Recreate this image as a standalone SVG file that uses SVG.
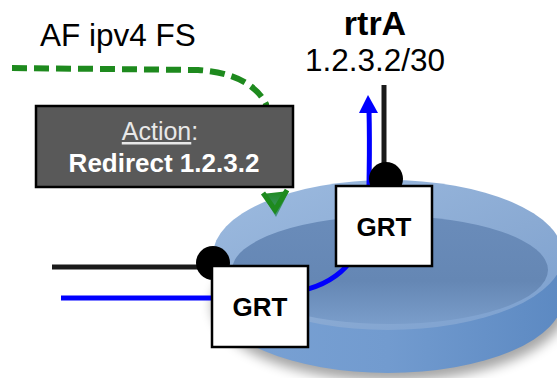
<svg xmlns="http://www.w3.org/2000/svg" width="557" height="378" viewBox="0 0 557 378">
  <style>
    .lbl { font-family: "Liberation Sans", Arial, sans-serif; fill: #000; }
    .bold { font-weight: bold; }
    .grt-box { fill: #fff; stroke: #000; stroke-width: 2.5; }
    .grt-text { font-family: "Liberation Sans", Arial, sans-serif; font-weight: bold; font-size: 26px; fill: #000; text-anchor: middle; }
    .wire-black { fill: none; stroke: #1a1a1a; stroke-width: 5; }
    .wire-blue { fill: none; stroke: #0000ff; stroke-width: 5; }
    .flow { fill: none; stroke: #1e8a1e; stroke-width: 6; stroke-dasharray: 15 7; }
  </style>
  <defs>
    <filter id="soft" x="-20%" y="-20%" width="140%" height="140%">
      <feGaussianBlur stdDeviation="6"/>
    </filter>
    <linearGradient id="sideFill" x1="0" y1="0" x2="1" y2="0">
      <stop offset="0" stop-color="#7aa2d4"/>
      <stop offset="0.5" stop-color="#729bcf"/>
      <stop offset="1" stop-color="#5c89c2"/>
    </linearGradient>
    <linearGradient id="rimFill" x1="0" y1="0" x2="1" y2="1">
      <stop offset="0" stop-color="#9dbbe0"/>
      <stop offset="0.6" stop-color="#8aaad3"/>
      <stop offset="1" stop-color="#7a9fcf"/>
    </linearGradient>
    <linearGradient id="innerFill" x1="0" y1="0" x2="0" y2="1">
      <stop offset="0" stop-color="#6a8cba"/>
      <stop offset="0.6" stop-color="#6587b4"/>
      <stop offset="1" stop-color="#7a9dca"/>
    </linearGradient>
    <linearGradient id="headFill" x1="0" y1="0" x2="0" y2="1">
      <stop offset="0" stop-color="#1e8a1e"/>
      <stop offset="1" stop-color="#4a9488"/>
    </linearGradient>
  </defs>

  <!-- the routing table dish -->
  <g id="dish">
    <ellipse cx="390" cy="305" rx="178" ry="76" fill="#000" opacity="0.35" filter="url(#soft)"/>
    <path d="M213,255 L213,298 A175,75 0 0 0 563,298 L563,255 Z" fill="url(#sideFill)"/>
    <ellipse cx="388" cy="255" rx="175" ry="75" fill="url(#rimFill)"/>
    <ellipse cx="390" cy="270" rx="158" ry="54" fill="url(#innerFill)"/>
  </g>

  <!-- labels -->
  <g id="fs-label">
    <text class="lbl" x="40" y="46" font-size="31.5">AF ipv4 FS</text>
  </g>
  <g id="rtrA">
    <text class="lbl bold" x="375" y="35" font-size="34" text-anchor="middle">rtrA</text>
    <text class="lbl" x="375" y="71" font-size="31.5" text-anchor="middle">1.2.3.2/30</text>
  </g>

  <!-- connectors -->
  <g id="connectors">
    <path class="flow" d="M12,68 L198,70 C232,72 256,84 266,104 L270,190"/>
    <polygon points="262,194 289,191 276,217" fill="url(#headFill)"/>
    <path d="M263,193 L275,210 L287,190" fill="none" stroke="#1e8a1e" stroke-width="5"/>
    <line class="wire-black" x1="52" y1="267" x2="214" y2="267"/>
    <path class="wire-blue" d="M61,298 L230,298"/>
    <path class="wire-blue" d="M300,291 Q333,284 350,262"/>
    <line class="wire-black" x1="384" y1="85" x2="384" y2="180"/>
    <path class="wire-blue" d="M369,190 C369,170 370,150 369,110"/>
    <polygon points="359,113 378,113 368,95" fill="#0000ff"/>
    <circle cx="213" cy="263" r="17" fill="#000"/>
    <circle cx="386" cy="179" r="17" fill="#000"/>
  </g>

  <!-- action box -->
  <g id="action">
    <rect x="36" y="106" width="257" height="81" fill="#595959" stroke="#000" stroke-width="2.5"/>
    <text class="lbl" x="160" y="140" font-size="25" text-anchor="middle" style="fill:#e8e8e8"><tspan text-decoration="underline">Action</tspan>:</text>
    <text class="lbl bold" x="164" y="172" font-size="26" text-anchor="middle" style="fill:#fff">Redirect 1.2.3.2</text>
  </g>

  <!-- routers -->
  <g id="grt-right">
    <rect class="grt-box" x="336" y="186" width="96" height="80"/>
    <text class="grt-text" x="384" y="236">GRT</text>
  </g>
  <g id="grt-left">
    <rect class="grt-box" x="212" y="266" width="96" height="81"/>
    <text class="grt-text" x="260" y="316">GRT</text>
  </g>
</svg>
